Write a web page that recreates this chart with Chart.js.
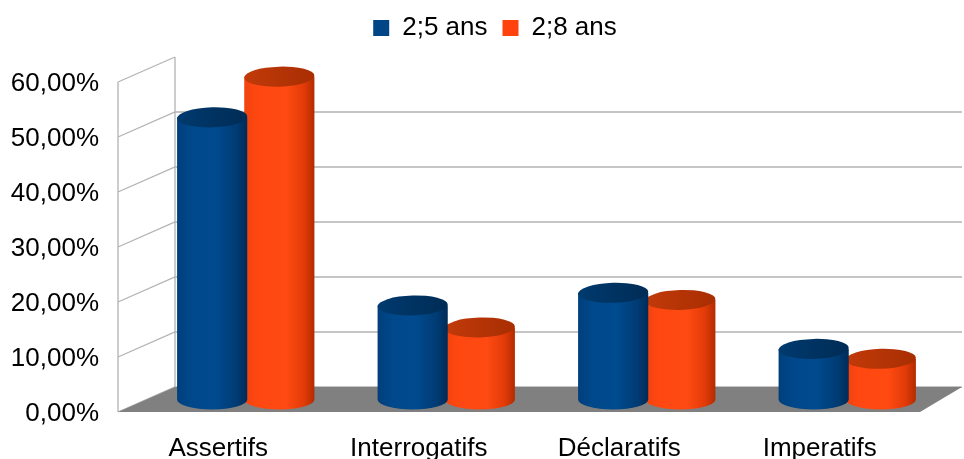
<!DOCTYPE html>
<html>
<head>
<meta charset="utf-8">
<style>
  html, body { margin: 0; padding: 0; background: #fff; }
</style>
<script src="https://cdn.jsdelivr.net/npm/chart.js@4.4.1/dist/chart.umd.min.js"></script>
</head>
<body>
<canvas id="chart" width="964" height="459"></canvas>
<script>
// Types d'énoncés par âge
const categories = ['Assertifs', 'Interrogatifs', 'Déclaratifs', 'Imperatifs'];
const seriesNames = ['2;5 ans', '2;8 ans'];
const age25 = [51.3, 17.1, 19.4, 9.2];
const age28 = [58.7, 13.1, 18.1, 7.4];
const yTicks = [0, 10, 20, 30, 40, 50, 60];

const FONT = "'Liberation Sans', Arial, sans-serif";

const COLORS = {
  blue: '#004586',
  orange: '#ff420e',
  grid: '#b3b3b3',
  floor: '#808080'
};

// shading for each series: body gradient stops + top cap gradient stops
const SHADES = [
  {
    body: [[0, '#003f7c'], [0.2, '#00488a'], [0.55, '#004a8e'], [0.85, '#003b73'], [1, '#002b57']],
    cap: [[0, '#003a6e'], [1, '#002c56']]
  },
  {
    body: [[0, '#f2420e'], [0.2, '#ff4811'], [0.6, '#ff4a12'], [0.85, '#e23b08'], [1, '#b22c00']],
    cap: [[0, '#c23a0a'], [1, '#a82e02']]
  }
];

// fake 3D box: offsets of the back plane relative to the front plane
const DEPTH = { dxLeft: 57, dxRight: 42, dy: 25, barShift: 27.5 };
const CAP_RY = 10;
const CAP_TILT = -0.03;

function gradient(ctx, x0, x1, stops) {
  const g = ctx.createLinearGradient(x0, 0, x1, 0);
  stops.forEach(([o, c]) => g.addColorStop(o, c));
  return g;
}

function cylinder(ctx, cx, top, base, rx, ry, shade) {
  // body with rounded bottom
  ctx.beginPath();
  ctx.moveTo(cx - rx, top);
  ctx.lineTo(cx - rx, base);
  ctx.ellipse(cx, base, rx, ry, 0, Math.PI, 0, true);
  ctx.lineTo(cx + rx, top);
  ctx.closePath();
  ctx.fillStyle = gradient(ctx, cx - rx, cx + rx, shade.body);
  ctx.fill();
  // top cap
  ctx.beginPath();
  ctx.ellipse(cx, top, rx, ry, CAP_TILT, 0, Math.PI * 2);
  ctx.fillStyle = gradient(ctx, cx - rx, cx + rx, shade.cap);
  ctx.fill();
}

const scene3d = {
  id: 'scene3d',
  beforeInit(chart) {
    // reserve the band above the plot for the legend
    const fit = chart.legend.fit;
    chart.legend.fit = function () {
      fit.call(this);
      this.height = 82;
    };
  },
  afterLayout(chart) {
    // center the legend over the whole box, back wall included
    const lg = chart.legend;
    lg.left = 26;
    lg.right = chart.width;
    lg.width = lg.right - lg.left;
  },
  beforeDatasetsDraw(chart) {
    const { ctx, chartArea: a, scales: { y } } = chart;
    const backLeft = a.left + DEPTH.dxLeft;
    const backRight = a.right + DEPTH.dxRight;
    const maxV = yTicks[yTicks.length - 1];
    ctx.save();

    // side wall + back wall grid
    ctx.strokeStyle = COLORS.grid;
    ctx.lineWidth = 1.3;
    yTicks.forEach(v => {
      const py = y.getPixelForValue(v);
      ctx.beginPath();
      ctx.moveTo(a.left, py);
      ctx.lineTo(backLeft, py - DEPTH.dy);
      if (v < maxV) ctx.lineTo(backRight, py - DEPTH.dy);
      ctx.stroke();
    });
    ctx.beginPath();
    ctx.moveTo(a.left, a.top);
    ctx.lineTo(a.left, a.bottom);
    ctx.moveTo(backLeft, a.top - DEPTH.dy);
    ctx.lineTo(backLeft, a.bottom - DEPTH.dy);
    ctx.stroke();

    // floor
    ctx.beginPath();
    ctx.moveTo(a.left, a.bottom);
    ctx.lineTo(a.right, a.bottom);
    ctx.lineTo(backRight, a.bottom - DEPTH.dy);
    ctx.lineTo(backLeft, a.bottom - DEPTH.dy);
    ctx.closePath();
    ctx.fillStyle = COLORS.floor;
    ctx.fill();

    // cylinders, second series first so the first overlaps it
    const base = y.getPixelForValue(0) - DEPTH.dy / 2;
    [1, 0].forEach(di => {
      chart.getDatasetMeta(di).data.forEach(bar => {
        const cx = bar.x + DEPTH.barShift;
        const top = bar.y - DEPTH.dy / 2;
        cylinder(ctx, cx, top, base, bar.width / 2 + 1.5, CAP_RY, SHADES[di]);
      });
    });

    ctx.restore();
    return false;
  }
};

new Chart(document.getElementById('chart'), {
  type: 'bar',
  data: {
    labels: categories,
    datasets: [
      { label: seriesNames[0], data: age25, backgroundColor: COLORS.blue, borderColor: COLORS.blue, borderWidth: 0 },
      { label: seriesNames[1], data: age28, backgroundColor: COLORS.orange, borderColor: COLORS.orange, borderWidth: 0 }
    ]
  },
  options: {
    responsive: false,
    animation: false,
    devicePixelRatio: 1,
    layout: { padding: { left: 0, right: 44, top: 0, bottom: 0 } },
    datasets: { bar: { categoryPercentage: 0.67, barPercentage: 1 } },
    scales: {
      x: {
        grid: { display: false, drawTicks: false },
        border: { display: false },
        ticks: { color: '#000', padding: 21, font: { family: FONT, size: 26 } },
        afterFit: s => { s.height = 47; }
      },
      y: {
        min: 0,
        max: 60,
        grid: { display: false, drawTicks: false },
        border: { display: false },
        afterBuildTicks: s => { s.ticks = yTicks.map(v => ({ value: v })); },
        ticks: {
          color: '#000',
          padding: 19,
          labelOffset: 2,
          font: { family: FONT, size: 26 },
          callback: v => v.toFixed(2).replace('.', ',') + '%'
        },
        afterFit: s => { s.width = 118; }
      }
    },
    plugins: {
      legend: {
        position: 'top',
        labels: {
          boxWidth: 16,
          boxHeight: 16,
          padding: 15,
          color: '#000',
          font: { family: FONT, size: 26 }
        }
      },
      tooltip: { enabled: false }
    }
  },
  plugins: [scene3d]
});
</script>
</body>
</html>
